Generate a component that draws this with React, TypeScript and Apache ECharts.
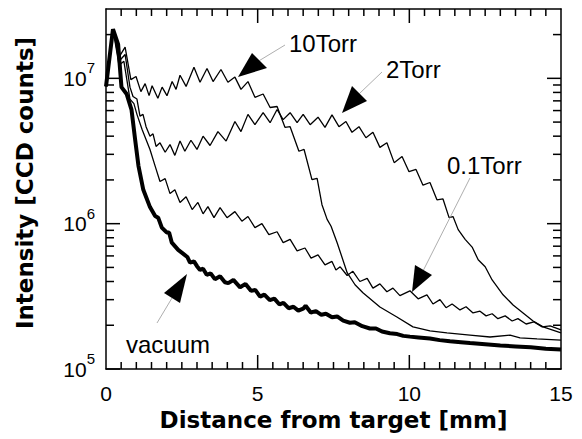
import React, { useEffect, useRef } from 'react';
import * as echarts from 'echarts';

// Distance from target [mm], intensity [CCD counts]
const vacuum: [number, number][] = [
  [0, 8.8e6], [0.23, 2.18e7], [0.4, 1.71e7], [0.51, 8.7e6], [0.68, 7.8e6], [0.84, 6.1e6], [0.96, 3.8e6],
  [1.07, 2.5e6], [1.23, 1.71e6], [1.45, 1.3e6], [1.62, 1.13e6], [1.72, 1.1e6], [1.84, 9.4e5], [2.0, 8.7e5],
  [2.08, 8.7e5], [2.17, 7.4e5], [2.38, 6.6e5], [2.55, 6.2e5], [2.68, 5.9e5], [2.77, 5.4e5], [2.9, 5.5e5],
  [3.0, 5.1e5], [3.1, 4.8e5], [3.2, 4.9e5], [3.32, 4.45e5], [3.45, 4.55e5], [3.59, 4.15e5], [3.76, 4.35e5],
  [3.92, 3.95e5], [4.03, 3.9e5], [4.2, 4.1e5], [4.42, 3.65e5], [4.6, 3.85e5], [4.78, 3.45e5], [4.92, 3.5e5],
  [5.08, 3.15e5], [5.22, 3.25e5], [5.4, 2.98e5], [5.55, 3.05e5], [5.72, 2.78e5], [5.85, 2.85e5], [6.02, 2.62e5],
  [6.18, 2.68e5], [6.34, 2.52e5], [6.5, 2.6e5], [6.58, 2.72e5], [6.75, 2.45e5], [6.92, 2.5e5], [7.1, 2.36e5],
  [7.25, 2.4e5], [7.45, 2.27e5], [7.62, 2.3e5], [7.82, 2.15e5], [8.04, 2.08e5], [8.2, 2.1e5], [8.45, 1.97e5],
  [8.7, 1.9e5], [8.9, 1.9e5], [9.1, 1.81e5], [9.36, 1.76e5], [9.6, 1.74e5], [9.8, 1.69e5], [10.02, 1.67e5],
  [10.3, 1.65e5], [10.68, 1.62e5], [11.0, 1.58e5], [11.34, 1.55e5], [11.7, 1.53e5], [12.0, 1.51e5],
  [12.5, 1.48e5], [13.0, 1.45e5], [13.5, 1.43e5], [14.0, 1.41e5], [14.5, 1.38e5], [15.0, 1.36e5],
];

const torr10: [number, number][] = [
  [0, 8.8e6], [0.23, 2.18e7], [0.43, 1.4e7], [0.63, 1.64e7], [0.82, 9.8e6], [0.99, 1.03e7], [1.15, 8.1e6],
  [1.29, 9.2e6], [1.42, 7.6e6], [1.52, 8.9e6], [1.71, 7.3e6], [1.85, 8.7e6], [2.01, 7.6e6], [2.18, 9.5e6],
  [2.31, 8.4e6], [2.44, 1.05e7], [2.64, 8.8e6], [2.9, 1.19e7], [3.1, 9.4e6], [3.33, 1.17e7], [3.53, 9.5e6],
  [3.79, 1.15e7], [4.02, 9.4e6], [4.25, 1.02e7], [4.45, 8.4e6], [4.68, 9.5e6], [4.91, 7.4e6], [5.18, 7.8e6],
  [5.41, 6.3e6], [5.64, 6.4e6], [5.9, 4.6e6], [6.07, 4.65e6], [6.36, 3.15e6], [6.53, 3.24e6], [6.79, 2.01e6],
  [6.96, 2.05e6], [7.12, 1.35e6], [7.29, 1.07e6], [7.42, 9.6e5], [7.62, 7.4e5], [7.95, 4.6e5], [8.21, 3.8e5],
  [8.47, 3.35e5], [9.03, 2.67e5], [9.59, 2.28e5], [10.12, 1.95e5], [10.68, 1.83e5], [11.24, 1.77e5],
  [12.0, 1.71e5], [12.66, 1.66e5], [13.32, 1.71e5], [13.65, 1.64e5], [14.21, 1.61e5], [15.0, 1.58e5],
];

const torr2: [number, number][] = [
  [0, 8.8e6], [0.23, 2.18e7], [0.43, 1.31e7], [0.63, 1.46e7], [0.79, 8.7e6], [0.89, 7.5e6], [1.02, 7.2e6],
  [1.12, 5.5e6], [1.22, 5.65e6], [1.32, 4.65e6], [1.45, 4.0e6], [1.55, 4.15e6], [1.65, 3.4e6], [1.78, 3.6e6],
  [1.95, 3.1e6], [2.11, 3.5e6], [2.27, 2.95e6], [2.44, 3.7e6], [2.6, 3.15e6], [2.8, 3.75e6], [3.0, 3.24e6],
  [3.2, 4.0e6], [3.43, 3.45e6], [3.69, 4.3e6], [3.96, 3.7e6], [4.25, 5.05e6], [4.45, 4.3e6], [4.68, 5.65e6],
  [4.91, 4.8e6], [5.18, 5.8e6], [5.41, 4.95e6], [5.64, 6.1e6], [5.84, 5.2e6], [6.07, 5.8e6], [6.3, 4.95e6],
  [6.5, 5.65e6], [6.73, 4.8e6], [6.99, 5.4e6], [7.22, 4.6e6], [7.45, 5.6e6], [7.68, 4.65e6], [7.91, 5.05e6],
  [8.11, 4.25e6], [8.34, 4.65e6], [8.57, 3.9e6], [8.8, 4.25e6], [9.03, 3.35e6], [9.26, 3.6e6], [9.5, 2.63e6],
  [9.76, 2.9e6], [9.99, 2.28e6], [10.22, 2.36e6], [10.45, 1.84e6], [10.68, 1.92e6], [10.91, 1.46e6],
  [11.11, 1.48e6], [11.31, 1.1e6], [11.44, 1.12e6], [11.61, 9.1e5], [11.84, 7.8e5], [12.07, 6.9e5],
  [12.27, 5.65e5], [12.5, 5.05e5], [12.73, 4.1e5], [13.09, 3.24e5], [13.42, 2.76e5], [13.75, 2.43e5],
  [14.08, 2.14e5], [14.41, 1.95e5], [15.0, 1.77e5],
];

const torr01: [number, number][] = [
  [0, 8.8e6], [0.23, 2.18e7], [0.43, 1.23e7], [0.59, 1.31e7], [0.79, 7.2e6], [0.92, 6.7e6], [1.02, 5.65e6],
  [1.19, 4.45e6], [1.32, 3.8e6], [1.45, 3.24e6], [1.62, 2.49e6], [1.78, 1.95e6], [1.95, 2.04e6], [2.11, 1.61e6],
  [2.27, 1.71e6], [2.44, 1.4e6], [2.64, 1.53e6], [2.84, 1.25e6], [3.03, 1.4e6], [3.2, 1.17e6], [3.36, 1.31e6],
  [3.56, 1.1e6], [3.76, 1.29e6], [3.99, 1.1e6], [4.25, 1.21e6], [4.48, 1.04e6], [4.68, 1.12e6], [4.91, 9.4e5],
  [5.14, 1.0e6], [5.37, 8.4e5], [5.64, 8.8e5], [5.84, 7.4e5], [6.07, 7.8e5], [6.3, 6.5e5], [6.56, 6.8e5],
  [6.76, 5.8e5], [6.99, 6.1e5], [7.22, 5.2e5], [7.45, 5.5e5], [7.58, 4.8e5], [7.72, 5.05e5], [7.95, 4.4e5],
  [8.14, 4.7e5], [8.37, 4.0e5], [8.61, 4.2e5], [8.8, 3.6e5], [9.03, 3.85e5], [9.26, 3.4e5], [9.46, 3.6e5],
  [9.69, 3.2e5], [10.02, 3.45e5], [10.29, 3.04e5], [10.58, 3.24e5], [10.78, 2.8e5], [11.01, 3.0e5],
  [11.21, 2.64e5], [11.41, 2.8e5], [11.67, 2.55e5], [11.87, 2.68e5], [12.1, 2.43e5], [12.33, 2.5e5],
  [12.53, 2.32e5], [12.73, 2.4e5], [12.92, 2.22e5], [13.16, 2.32e5], [13.39, 2.14e5], [13.58, 2.22e5],
  [13.85, 2.04e5], [14.11, 2.11e5], [14.38, 1.95e5], [14.64, 1.98e5], [15.0, 1.86e5],
];

const xRange = [0, 15];
const xMajorStep = 5;
const xMinorStep = 0.5;
const yRange = [1e5, 3e7];
const yMajorTicks = [1e5, 1e6, 1e7];
const yMinorTicks = [
  2e5, 3e5, 4e5, 5e5, 6e5, 7e5, 8e5, 9e5,
  2e6, 3e6, 4e6, 5e6, 6e6, 7e6, 8e6, 9e6,
  2e7,
];

const xTitle = 'Distance from target [mm]';
const yTitle = 'Intensity [CCD counts]';

// annotation texts and arrow geometry (pixel layout)
const annotations = [
  { text: '10Torr', tx: 289, ty: 43, tip: [238, 77], b1: [252, 53], b2: [267, 68], tail: [285, 45] },
  { text: '2Torr', tx: 386, ty: 69, tip: [342, 113], b1: [352, 86], b2: [367, 101], tail: [382, 72] },
  { text: '0.1Torr', tx: 447, ty: 165, tip: [412, 292], b1: [415, 265], b2: [432, 275], tail: [470, 178] },
  { text: 'vacuum', tx: 126, ty: 344, tip: [187, 274], b1: [164, 293], b2: [180, 303], tail: [157, 323] },
];

const FONT = '"Liberation Sans", Arial, Helvetica, sans-serif';
const BOLD_FONT = '"DejaVu Sans", "Liberation Sans", sans-serif';
const TICK_W = 1.5;

type Tick = { axis: 'x' | 'y'; v: number; len: number };
function buildTicks(): Tick[] {
  const ticks: Tick[] = [];
  const n = Math.round((xRange[1] - xRange[0]) / xMinorStep);
  for (let i = 1; i < n; i++) {
    const v = xRange[0] + i * xMinorStep;
    const major = Math.abs(v / xMajorStep - Math.round(v / xMajorStep)) < 1e-9;
    ticks.push({ axis: 'x', v, len: major ? 14 : 7 });
  }
  yMajorTicks.forEach((v) => ticks.push({ axis: 'y', v, len: 14 }));
  yMinorTicks.forEach((v) => ticks.push({ axis: 'y', v, len: 8 }));
  return ticks;
}

export default function App() {
  const ref = useRef<HTMLDivElement>(null);
  useEffect(() => {
    const chart = echarts.init(ref.current!, null, { renderer: 'svg' });
    const ticks = buildTicks();
    const axisLine = { show: true, onZero: false, lineStyle: { color: '#000', width: 1.5 } };
    const xCommon = {
      type: 'value', min: xRange[0], max: xRange[1], interval: xMajorStep,
      axisLine, splitLine: { show: false }, axisTick: { show: false }, minorTick: { show: false },
    };
    const yCommon = {
      type: 'log', logBase: 10, min: yRange[0], max: yRange[1],
      axisLine, splitLine: { show: false }, axisTick: { show: false }, minorTick: { show: false },
    };
    const lineSeries = (name: string, data: [number, number][], width: number) => ({
      name, type: 'line', data, symbol: 'none', showSymbol: false, smooth: false,
      lineStyle: { color: '#000', width }, itemStyle: { color: '#000' }, z: 3,
    });
    const txtStyle = (text: string, size: number, align: string, bold: boolean) => ({
      text, fill: '#000', fontSize: size, fontFamily: bold ? BOLD_FONT : FONT, fontWeight: bold ? 'bold' : 'normal',
      align, verticalAlign: 'middle', textAlign: align, textVerticalAlign: 'middle',
    });
    chart.setOption({
      animation: false,
      backgroundColor: '#fff',
      grid: { left: 106, right: 21, top: 9, bottom: 70 },
      xAxis: [
        {
          ...xCommon, position: 'bottom',
          axisLabel: { show: true, margin: 14, color: '#000', fontSize: 21, fontFamily: FONT },
        },
        { ...xCommon, position: 'top', axisLabel: { show: false } },
      ],
      yAxis: [
        {
          ...yCommon, position: 'left',
          axisLabel: {
            show: true, margin: 11, color: '#000', fontFamily: FONT, fontSize: 21,
            formatter: (v: number) => {
              const e = Math.log10(v);
              const r = Math.round(e);
              if (Math.abs(e - r) > 1e-6) return '';
              return `{b|10}{s|${r}}`;
            },
            rich: {
              b: { fontSize: 21, fontFamily: FONT, color: '#000', lineHeight: 36 },
              s: { fontSize: 15, fontFamily: FONT, color: '#000', verticalAlign: 'top', lineHeight: 16 },
            },
          },
        },
        { ...yCommon, position: 'right', axisLabel: { show: false } },
      ],
      series: [
        lineSeries('10Torr', torr10, 1.3),
        lineSeries('2Torr', torr2, 1.3),
        lineSeries('0.1Torr', torr01, 1.3),
        lineSeries('vacuum', vacuum, 4),
        {
          type: 'custom', silent: true, clip: false, z: 5,
          data: ticks.map((t) => (t.axis === 'x' ? [t.v, yRange[0]] : [xRange[0], t.v])),
          encode: { x: 0, y: 1 },
          renderItem: (params: any, api: any) => {
            const t = ticks[params.dataIndex];
            const h = TICK_W / 2;
            if (t.axis === 'x') {
              const b = api.coord([t.v, yRange[0]]);
              const tp = api.coord([t.v, yRange[1]]);
              return {
                type: 'group',
                children: [
                  { type: 'rect', shape: { x: b[0] - h, y: b[1] - t.len, width: TICK_W, height: t.len }, style: { fill: '#000' } },
                  { type: 'rect', shape: { x: tp[0] - h, y: tp[1], width: TICK_W, height: t.len }, style: { fill: '#000' } },
                ],
              };
            }
            const l = api.coord([xRange[0], t.v]);
            const r = api.coord([xRange[1], t.v]);
            return {
              type: 'group',
              children: [
                { type: 'rect', shape: { x: l[0], y: l[1] - h, width: t.len, height: TICK_W }, style: { fill: '#000' } },
                { type: 'rect', shape: { x: r[0] - t.len, y: r[1] - h, width: t.len, height: TICK_W }, style: { fill: '#000' } },
              ],
            };
          },
        },
        {
          type: 'custom', silent: true, clip: false, z: 10,
          data: [...annotations.map(() => [xRange[0], yRange[0]]), [xRange[0], yRange[0]], [xRange[0], yRange[0]]],
          encode: { x: 0, y: 1 },
          renderItem: (params: any, api: any) => {
            const i = params.dataIndex;
            if (i < annotations.length) {
              const a = annotations[i];
              const mid = [(a.b1[0] + a.b2[0]) / 2, (a.b1[1] + a.b2[1]) / 2];
              return {
                type: 'group',
                children: [
                  {
                    type: 'line',
                    shape: { x1: mid[0], y1: mid[1], x2: a.tail[0], y2: a.tail[1] },
                    style: { stroke: '#999', lineWidth: 0.8 },
                  },
                  { type: 'polygon', shape: { points: [a.tip, a.b1, a.b2] }, style: { fill: '#000' } },
                  { type: 'text', x: a.tx, y: a.ty, style: txtStyle(a.text, 24, 'left', false) },
                ],
              };
            }
            const o = api.coord([xRange[0], yRange[0]]);
            const e = api.coord([xRange[1], yRange[1]]);
            if (i === annotations.length) {
              return { type: 'text', x: (o[0] + e[0]) / 2, y: o[1] + 51, style: txtStyle(xTitle, 23, 'center', true) };
            }
            return {
              type: 'text', x: 25, y: (o[1] + e[1]) / 2 - 6, rotation: Math.PI / 2,
              style: txtStyle(yTitle, 23, 'center', true),
            };
          },
        },
      ],
    });
    return () => chart.dispose();
  }, []);
  return <div ref={ref} style={{ position: 'fixed', left: 0, top: 0, width: 582, height: 439 }} />;
}
